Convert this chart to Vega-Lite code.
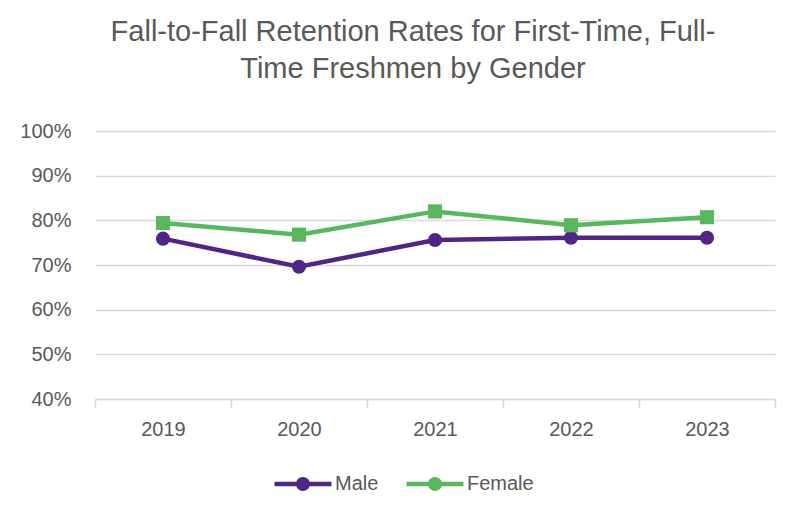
{
  "$schema": "https://vega.github.io/schema/vega-lite/v6.json",
  "autosize": {"type": "none"},
  "width": 680,
  "height": 268,
  "padding": {"left": 95, "top": 131, "right": 28, "bottom": 122},
  "background": "white",
  "config": {
    "font": "Liberation Sans",
    "view": {"stroke": null}
  },
  "title": {
    "text": ["Fall-to-Fall Retention Rates for First-Time, Full-", "Time Freshmen by Gender"],
    "font": "Liberation Sans",
    "fontSize": 29,
    "fontWeight": "normal",
    "color": "#595959",
    "anchor": "middle",
    "dx": -22,
    "lineHeight": 37,
    "offset": 37
  },
  "data": {
    "values": [
      {"year": "2019", "gender": "Male", "rate": 0.759},
      {"year": "2020", "gender": "Male", "rate": 0.696},
      {"year": "2021", "gender": "Male", "rate": 0.756},
      {"year": "2022", "gender": "Male", "rate": 0.761},
      {"year": "2023", "gender": "Male", "rate": 0.761},
      {"year": "2019", "gender": "Female", "rate": 0.794},
      {"year": "2020", "gender": "Female", "rate": 0.768},
      {"year": "2021", "gender": "Female", "rate": 0.820},
      {"year": "2022", "gender": "Female", "rate": 0.789},
      {"year": "2023", "gender": "Female", "rate": 0.807}
    ]
  },
  "encoding": {
    "x": {
      "field": "year",
      "type": "ordinal",
      "scale": {"type": "band", "paddingInner": 0, "paddingOuter": 0},
      "axis": {
        "title": null,
        "labelAngle": 0,
        "labelFontSize": 20,
        "labelColor": "#595959",
        "labelPadding": 11,
        "tickBand": "extent",
        "tickSize": 9,
        "tickColor": "#d9d9d9",
        "tickWidth": 1.5,
        "domainColor": "#d9d9d9",
        "domainWidth": 1.5,
        "grid": false
      }
    },
    "y": {
      "field": "rate",
      "type": "quantitative",
      "scale": {"domain": [0.4, 1.0], "nice": false, "zero": false},
      "axis": {
        "title": null,
        "values": [0.4, 0.5, 0.6, 0.7, 0.8, 0.9, 1.0],
        "format": ".0%",
        "labelFontSize": 20,
        "labelColor": "#595959",
        "labelPadding": 24,
        "ticks": false,
        "domain": false,
        "gridColor": "#d9d9d9",
        "gridWidth": 1.5
      }
    },
    "color": {
      "field": "gender",
      "type": "nominal",
      "scale": {"domain": ["Male", "Female"], "range": ["#4f2683", "#5bb660"]},
      "legend": {
        "title": null,
        "orient": "none",
        "direction": "horizontal",
        "legendX": 198,
        "legendY": 343,
        "padding": 0,
        "symbolSize": 196,
        "symbolType": "M-4.07,-0.32H4.07V0.32H-4.07Z M-1,0A1,1,0,1,1,1,0A1,1,0,1,1,-1,0Z",
        "symbolStrokeWidth": 0,
        "symbolOpacity": 1,
        "labelOffset": 22,
        "columnPadding": 27,
        "labelFontSize": 20,
        "labelColor": "#595959"
      }
    }
  },
  "layer": [
    {
      "mark": {"type": "line", "strokeWidth": 4.5}
    },
    {
      "transform": [{"filter": "datum.gender === 'Male'"}],
      "mark": {"type": "point", "filled": true, "size": 200, "opacity": 1, "shape": "circle"}
    },
    {
      "transform": [{"filter": "datum.gender === 'Female'"}],
      "mark": {"type": "point", "filled": true, "size": 200, "opacity": 1, "shape": "square"}
    }
  ]
}
